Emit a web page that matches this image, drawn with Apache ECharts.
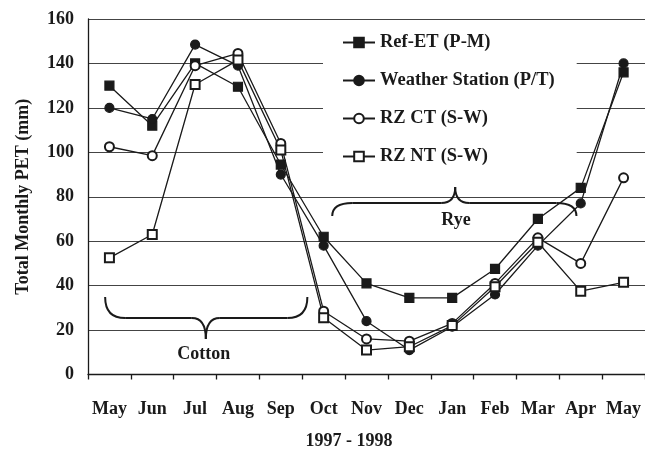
<!DOCTYPE html>
<html>
<head>
<meta charset="utf-8">
<script src="https://cdn.jsdelivr.net/npm/echarts@6/dist/echarts.min.js"></script>
<style>
html,body{margin:0;padding:0;background:#fff;}
#c{width:645px;height:452px;}
</style>
</head>
<body>
<div id="c"></div>
<script>
const months = ['May','Jun','Jul','Aug','Sep','Oct','Nov','Dec','Jan','Feb','Mar','Apr','May'];
const refET =   [130, 112, 140, 129.5, 94.5, 62, 41, 34.5, 34.5, 47.5, 70, 84, 136];
const weather = [120, 115, 148.5, 139, 90, 58, 24, 11, 21.5, 36, 58, 77, 140];
const rzCT =    [102.5, 98.5, 139, 144.5, 104, 28.5, 16, 15, 23, 41, 61.5, 50, 88.5];
const rzNT =    [52.5, 63, 130.5, 141.5, 101, 25.5, 11, 12.5, 22, 39.5, 59.5, 37.5, 41.5];
const yTicks = [0, 20, 40, 60, 80, 100, 120, 140, 160];
const seriesNames = ['Ref-ET (P-M)', 'Weather Station (P/T)', 'RZ CT (S-W)', 'RZ NT (S-W)'];

const FONT = '"Liberation Serif", "Times New Roman", serif';
const INK = '#1a1a1a';

const chart = echarts.init(document.getElementById('c'), null, {renderer:'canvas'});

function mkSeries(name, data, symbol){
  return {
    name: name, type: 'line', data: data,
    symbol: symbol, symbolSize: 9,
    showAllSymbol: true,
    lineStyle: {color: INK, width: 1.3},
    itemStyle: {color: INK, borderColor: INK, borderWidth: 1.2},
    emphasis: {disabled: true},
    animation: false
  };
}

chart.setOption({
  animation: false,
  backgroundColor: '#fff',
  grid: {left: 88, top: 19, bottom: 77.5, right: -1.7, containLabel: false},
  xAxis: {
    type: 'category', data: months, boundaryGap: true,
    axisLine: {lineStyle: {color: INK, width: 1.3}},
    axisTick: {show: true, length: 5, inside: false, lineStyle: {color: INK, width: 1.3}},
    axisLabel: {fontFamily: FONT, fontWeight: 'bold', fontSize: 18, color: INK, margin: 26, interval: 0},
    splitLine: {show: false}
  },
  yAxis: {
    type: 'value', min: 0, max: 160, interval: 20,
    name: 'Total Monthly PET (mm)', nameLocation: 'middle', nameGap: 56,
    nameTextStyle: {fontFamily: FONT, fontWeight: 'bold', fontSize: 18, color: INK},
    axisLine: {show: true, lineStyle: {color: INK, width: 1.3}},
    axisTick: {show: false},
    axisLabel: {fontFamily: FONT, fontWeight: 'bold', fontSize: 18, color: INK, margin: 14,
      formatter: function(v){ return yTicks.indexOf(v) >= 0 ? String(v) : ''; }},
    splitLine: {show: true, lineStyle: {color: '#444', width: 1.2}}
  },
  legend: {
    data: seriesNames,
    orient: 'vertical', left: 323, top: 22,
    padding: [11, 22, 15, 19],
    itemGap: 19,
    itemWidth: 32, itemHeight: 12,
    backgroundColor: '#fff',
    textStyle: {fontFamily: FONT, fontWeight: 'bold', fontSize: 18.5, color: INK, lineHeight: 18},
    selectedMode: false
  },
  series: [
    mkSeries(seriesNames[0], refET, 'rect'),
    mkSeries(seriesNames[1], weather, 'circle'),
    mkSeries(seriesNames[2], rzCT, 'emptyCircle'),
    mkSeries(seriesNames[3], rzNT, 'emptyRect')
  ]
});

// annotation placement in data space (category index, value)
const cottonBrace = {x0: -0.1, x1: 4.62, xc: 2.25, yEnd: 34.9, yFlat: 25.4, yTip: 16, label: 'Cotton', lx: 2.2, ly: 9.2};
const ryeBrace = {x0: 5.2, x1: 10.9, xc: 8.07, yEnd: 71.3, yFlat: 77.2, yTip: 84.4, label: 'Rye', lx: 8.09, ly: 69.5};
const yearLabel = '1997 - 1998';

function px(i){
  const a = chart.convertToPixel({xAxisIndex:0}, 0);
  const b = chart.convertToPixel({xAxisIndex:0}, 1);
  return a + (b - a) * i;
}
function py(v){
  const a = chart.convertToPixel({yAxisIndex:0}, 0);
  const b = chart.convertToPixel({yAxisIndex:0}, 100);
  return a + (b - a) * v / 100;
}
const braceStyle = {fill: null, stroke: INK, lineWidth: 2};
function q(x1, y1, cx, cy, x2, y2){
  return {type: 'bezierCurve', z: 10, shape: {x1: x1, y1: y1, x2: x2, y2: y2, cpx1: cx, cpy1: cy}, style: braceStyle};
}
function ln(x1, y1, x2, y2){
  return {type: 'line', z: 10, shape: {x1: x1, y1: y1, x2: x2, y2: y2}, style: braceStyle};
}
function braceGraphics(b){
  const x0 = px(b.x0), x1 = px(b.x1), xc = px(b.xc);
  const ye = py(b.yEnd), yf = py(b.yFlat), yt = py(b.yTip);
  const rx = 20, cx = 14;
  return [
    q(x0, ye, x0, yf, x0 + rx, yf),
    ln(x0 + rx, yf, xc - cx, yf),
    q(xc - cx, yf, xc, yf, xc, yt),
    q(xc, yt, xc, yf, xc + cx, yf),
    ln(xc + cx, yf, x1 - rx, yf),
    q(x1 - rx, yf, x1, yf, x1, ye),
    {type: 'text', x: px(b.lx), y: py(b.ly), z: 10,
      style: {text: b.label, fontFamily: FONT, fontWeight: 'bold', fontSize: 18, fill: INK, textAlign: 'center', textVerticalAlign: 'middle'}}
  ];
}

chart.setOption({
  graphic: {elements: [].concat(
    braceGraphics(cottonBrace),
    braceGraphics(ryeBrace),
    [{type: 'text', x: 349, y: 441, z: 10,
      style: {text: yearLabel, fontFamily: FONT, fontWeight: 'bold', fontSize: 18, fill: INK, textAlign: 'center', textVerticalAlign: 'middle'}}]
  )}
});
</script>
</body>
</html>
